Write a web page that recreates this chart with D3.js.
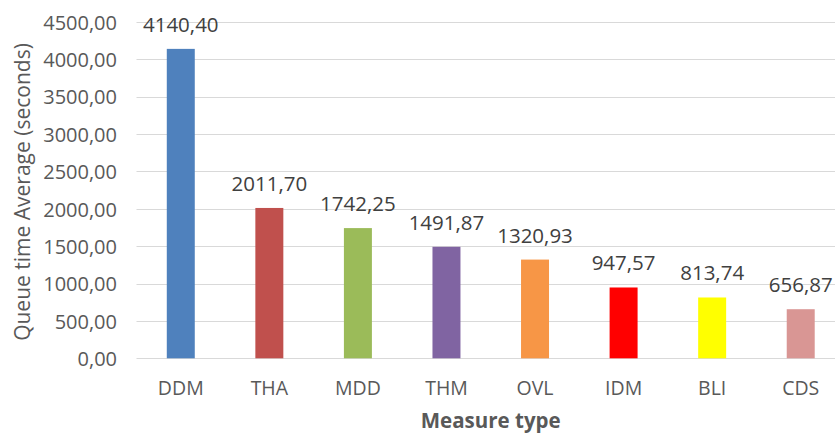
<!DOCTYPE html>
<html><head><meta charset="utf-8">
<script src="https://cdn.jsdelivr.net/npm/d3@7"></script>
<style>body{margin:0;background:#fff}svg{display:block}</style>
</head><body><svg id="c" width="835" height="435"></svg>
<script>
const categories = ["DDM","THA","MDD","THM","OVL","IDM","BLI","CDS"];
const values = [4140.40, 2011.70, 1742.25, 1491.87, 1320.93, 947.57, 813.74, 656.87];
const colors = ["#4f81bd","#c0504d","#9bbb59","#8064a2","#f79646","#ff0000","#ffff00","#d99694"];
const yTicks = [0,500,1000,1500,2000,2500,3000,3500,4000,4500];
const yTitle = "Queue time Average (seconds)";
const xTitle = "Measure type";

const svg = d3.select("#c");
const font = "'Open Sans', sans-serif";
const loc = d3.formatLocale({decimal:",", thousands:"", grouping:[3], currency:["",""]});
const fmt = loc.format(".2f");

const x = d3.scaleBand().domain(categories).range([136.5, 845]).paddingInner(0.684).paddingOuter(0.342);
const y = d3.scaleLinear().domain([0,4500]).range([358.3, 22]);

// gridlines
svg.append("g").selectAll("line").data(yTicks).join("line")
  .attr("x1", 136.5).attr("x2", 845)
  .attr("y1", d => Math.round(y(d)) + 0.5).attr("y2", d => Math.round(y(d)) + 0.5)
  .attr("stroke", "#d9d9d9").attr("stroke-width", 1);

// y axis
const ya = svg.append("g").attr("transform", "translate(117,0)")
  .call(d3.axisLeft(y).tickValues(yTicks).tickFormat(fmt).tickSize(0).tickPadding(0));
ya.select(".domain").remove();
ya.selectAll("text").attr("font-family", font).attr("font-size", 20).attr("fill", "#595959").attr("dy", "0.36em");

// bars
svg.append("g").selectAll("rect").data(values).join("rect")
  .attr("x", (d,i) => x(categories[i]))
  .attr("width", x.bandwidth())
  .attr("y", d => y(d))
  .attr("height", d => y(0) - y(d))
  .attr("fill", (d,i) => colors[i]);

// data labels
svg.append("g").selectAll("text").data(values).join("text")
  .attr("x", (d,i) => x(categories[i]) + x.bandwidth()/2)
  .attr("y", d => y(d) - 17)
  .attr("text-anchor", "middle")
  .attr("font-family", font).attr("font-size", 20.5).attr("fill", "#404040")
  .text(d => fmt(d));

// x axis labels
const xa = svg.append("g").attr("transform", "translate(0,358.3)")
  .call(d3.axisBottom(x).tickSize(0).tickPadding(0));
xa.select(".domain").remove();
xa.selectAll("text").attr("font-family", font).attr("font-size", 19.5).attr("fill", "#595959")
  .attr("dy", 0).attr("y", 37);

// titles
svg.append("text").attr("x", 490.7).attr("y", 428).attr("text-anchor", "middle")
  .attr("font-family", font).attr("font-size", 20.5).attr("font-weight", "bold").attr("fill", "#595959")
  .text(xTitle);
svg.append("text").attr("transform", "translate(30,192) rotate(-90)").attr("text-anchor", "middle")
  .attr("font-family", font).attr("font-size", 21).attr("fill", "#595959")
  .text(yTitle);
</script></body></html>
